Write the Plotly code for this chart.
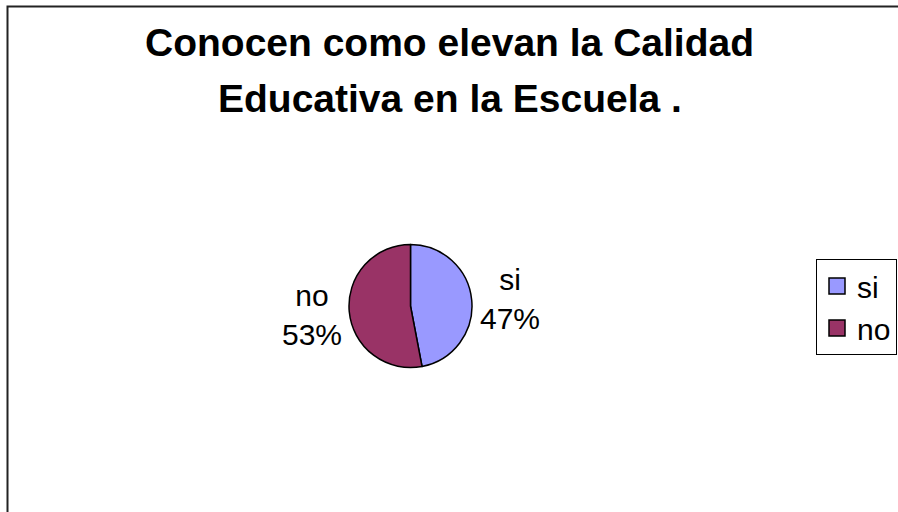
import plotly.graph_objects as go

categories = ["si", "no"]
values = [47, 53]
colors = ["#9999FF", "#993366"]
title_lines = ["Conocen como elevan la Calidad", "Educativa en la Escuela ."]

W, H = 898, 512
FONT = "Liberation Sans, Arial, sans-serif"

total = sum(values)
pct_labels = [f"{c}<br>{round(v * 100 / total)}%" for c, v in zip(categories, values)]

fig = go.Figure()
fig.add_trace(go.Pie(
    labels=categories, values=values, sort=False, direction="clockwise", rotation=0,
    marker=dict(colors=colors, line=dict(color="black", width=1.5)),
    textinfo="none",
    showlegend=False, hoverinfo="label+percent",
    domain=dict(x=[(410.5 - 61.5) / W, (410.5 + 61.5) / W],
                y=[(206 - 61.5) / H, (206 + 61.5) / H]),
))
for c, col in zip(categories, colors):
    fig.add_trace(go.Scatter(
        x=[None], y=[None], mode="markers", name=c,
        marker=dict(symbol="square", size=16, color=col, line=dict(color="black", width=1.5)),
    ))

# data labels (text from data, placed beside the pie)
label_pos = [(509.5, 298.5), (311.5, 314.5)]
annotations = []
for txt, (px, py) in zip(pct_labels, label_pos):
    annotations.append(dict(text=txt, x=px / W, y=1 - py / H, xref="paper", yref="paper",
                            xanchor="center", yanchor="middle", showarrow=False, align="center",
                            font=dict(family=FONT, size=30, color="black")))
# title lines
for line, py in zip(title_lines, [42, 98]):
    annotations.append(dict(text="<b>" + line + "</b>", x=449.5 / W, y=1 - py / H,
                            xref="paper", yref="paper", xanchor="center", yanchor="middle",
                            showarrow=False, font=dict(family=FONT, size=39, color="black")))

fig.update_layout(
    width=W, height=H,
    margin=dict(l=0, r=0, t=0, b=0, autoexpand=False),
    paper_bgcolor="white", plot_bgcolor="white",
    xaxis=dict(visible=False), yaxis=dict(visible=False),
    annotations=annotations,
    legend=dict(x=816 / W, y=1 - 259 / H, xanchor="left", yanchor="top",
                bordercolor="black", borderwidth=1, bgcolor="white",
                font=dict(family=FONT, size=30, color="black"),
                itemsizing="trace", tracegroupgap=0),
    shapes=[dict(type="rect", xref="paper", yref="paper",
                 x0=7.5 / W, x1=1.5, y0=-0.5, y1=1 - 6.5 / H,
                 line=dict(color="#222222", width=2))],
)

fig.write_html("out.html", config={"displayModeBar": False},
               post_script="document.body.style.margin='0';document.body.style.overflow='hidden';")
